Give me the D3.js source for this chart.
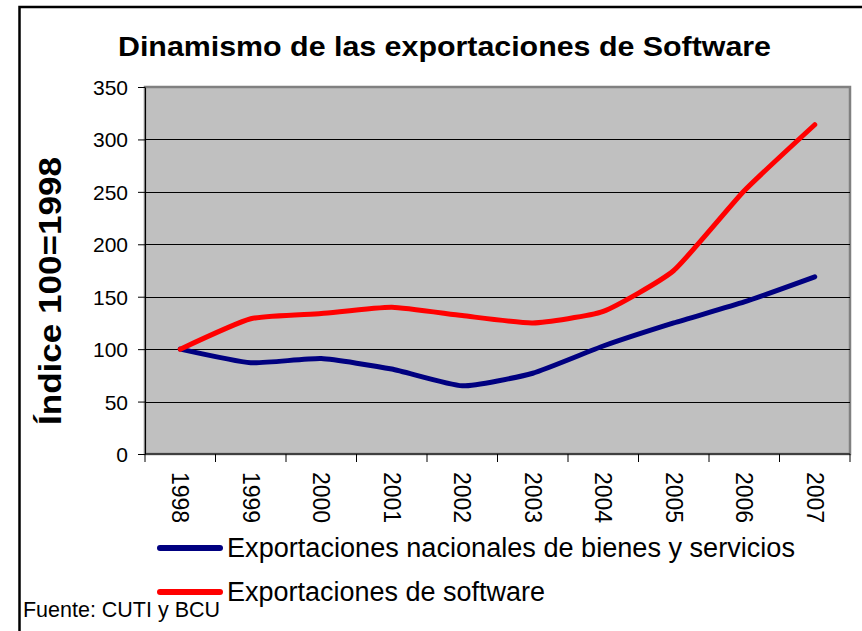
<!DOCTYPE html>
<html>
<head>
<meta charset="utf-8">
<script src="https://cdn.jsdelivr.net/npm/d3@7"></script>
<style>
  body { margin: 0; background: #fff; }
  svg text { font-family: Arial, "Liberation Sans", sans-serif; }
</style>
</head>
<body>
<div id="chart"></div>
<script>
// data (index 100 = 1998)
const years = ["1998", "1999", "2000", "2001", "2002", "2003", "2004", "2005", "2006", "2007"];
const nacionales = [100, 87, 91, 81, 65, 77, 103, 125, 145, 169];
const software = [100, 129, 134, 140, 132, 125, 136, 175, 251, 314];
const yTicks = [0, 50, 100, 150, 200, 250, 300, 350];
const seriesNames = ["Exportaciones nacionales de bienes y servicios", "Exportaciones de software"];
const seriesColors = ["#000080", "#ff0000"];

const W = 862, H = 631;
const margin = {top: 87, right: 12, bottom: 177, left: 145},
    width = W - margin.left - margin.right,
    height = H - margin.top - margin.bottom;

const svg = d3.select("#chart")
  .append("svg")
  .attr("width", W)
  .attr("height", H);

// outer frame (only top and left edges are visible)
svg.append("path")
  .attr("d", `M19.5,${H} V7 H${W}`)
  .attr("fill", "none")
  .attr("stroke", "#000")
  .attr("stroke-width", 2.5);

// title
svg.append("text")
  .attr("x", 444.5)
  .attr("y", 56)
  .attr("text-anchor", "middle")
  .attr("font-size", 27)
  .attr("font-weight", "bold")
  .attr("textLength", 653)
  .attr("lengthAdjust", "spacingAndGlyphs")
  .text("Dinamismo de las exportaciones de Software");

const g = svg.append("g")
  .attr("transform", `translate(${margin.left},${margin.top})`);

const x = d3.scaleBand()
  .domain(years)
  .range([0, width]);

const y = d3.scaleLinear()
  .domain([0, 350])
  .range([height, 0]);

// plot background
g.append("rect")
  .attr("width", width)
  .attr("height", height)
  .attr("fill", "#c0c0c0")
  .attr("stroke", "#808080")
  .attr("stroke-width", 2.5);

// gridlines
g.append("g")
  .selectAll("line")
  .data(yTicks.filter(d => d > 0 && d < 350))
  .join("line")
  .attr("x1", 0)
  .attr("x2", width)
  .attr("y1", d => Math.round(y(d)) + 0.5)
  .attr("y2", d => Math.round(y(d)) + 0.5)
  .attr("stroke", "#000")
  .attr("stroke-width", 1);

// y axis
const yAxis = g.append("g")
  .call(d3.axisLeft(y).tickValues(yTicks).tickSize(7).tickSizeOuter(0).tickPadding(10));
yAxis.select(".domain").attr("stroke", "#000");
yAxis.selectAll("text")
  .attr("font-size", 21)
  .attr("fill", "#000")
  .attr("dy", "0.36em");

// x axis: ticks on category boundaries
const xAxis = g.append("g")
  .attr("transform", `translate(0,${height})`);
xAxis.append("line")
  .attr("x1", 0).attr("x2", width)
  .attr("stroke", "#000");
xAxis.selectAll(".tick")
  .data(d3.range(years.length + 1))
  .join("line")
  .attr("x1", i => i * x.bandwidth())
  .attr("x2", i => i * x.bandwidth())
  .attr("y1", 0)
  .attr("y2", 8)
  .attr("stroke", "#000");
xAxis.selectAll(".lbl")
  .data(years)
  .join("text")
  .attr("transform", d => `translate(${x(d) + x.bandwidth() / 2},18) rotate(90)`)
  .attr("dy", "0.35em")
  .attr("font-size", 23)
  .attr("text-anchor", "start")
  .text(d => d);

// y axis title
svg.append("text")
  .attr("transform", "translate(49,291) rotate(-90)")
  .attr("text-anchor", "middle")
  .attr("dy", "0.36em")
  .attr("font-size", 32)
  .attr("font-weight", "bold")
  .attr("textLength", 268)
  .attr("lengthAdjust", "spacingAndGlyphs")
  .text("Índice 100=1998");

// lines (lightly smoothed, like the spreadsheet original)
const line = d3.line()
  .x((d, i) => x(years[i]) + x.bandwidth() / 2)
  .y(d => y(d))
  .curve(d3.curveCardinal.tension(0.5));

[nacionales, software].forEach((s, k) => {
  g.append("path")
    .datum(s)
    .attr("fill", "none")
    .attr("stroke", seriesColors[k])
    .attr("stroke-width", 5)
    .attr("stroke-linecap", "round")
    .attr("stroke-linejoin", "round")
    .attr("d", line);
});

// legend
const legY = [548, 592];
const leg = svg.append("g");
seriesNames.forEach((name, k) => {
  leg.append("line")
    .attr("x1", 160).attr("x2", 220)
    .attr("y1", legY[k]).attr("y2", legY[k])
    .attr("stroke", seriesColors[k])
    .attr("stroke-width", 6)
    .attr("stroke-linecap", "round");
  leg.append("text")
    .attr("x", 227)
    .attr("y", legY[k] + 9)
    .attr("font-size", 27)
    .attr("textLength", k === 0 ? 568 : 318)
    .attr("lengthAdjust", "spacingAndGlyphs")
    .text(name);
});

// source note
svg.append("text")
  .attr("x", 23)
  .attr("y", 617)
  .attr("font-size", 22)
  .attr("textLength", 197)
  .attr("lengthAdjust", "spacingAndGlyphs")
  .text("Fuente: CUTI y BCU");
</script>
</body>
</html>
